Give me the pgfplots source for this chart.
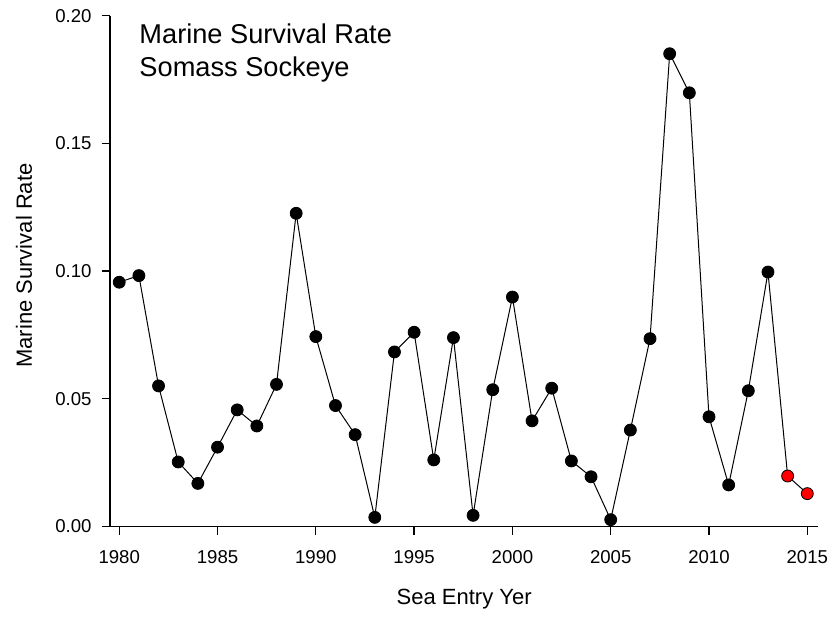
\documentclass[border=0pt]{standalone}
\usepackage{fontspec}
\setmainfont{Liberation Sans}
\usepackage{pgfplots}
\pgfplotsset{compat=1.18}
\usepackage{pgfplotstable}
\pgfplotstableread{
year rate
1980 0.0956
1981 0.0982
1982 0.0550
1983 0.0252
1984 0.0168
1985 0.0310
1986 0.0456
1987 0.0393
1988 0.0556
1989 0.1226
1990 0.0743
1991 0.0473
1992 0.0359
1993 0.0035
1994 0.0683
1995 0.0760
1996 0.0260
1997 0.0739
1998 0.0043
1999 0.0535
2000 0.0898
2001 0.0413
2002 0.0541
2003 0.0256
2004 0.0194
2005 0.0026
2006 0.0377
2007 0.0735
2008 0.1851
2009 0.1698
2010 0.0429
2011 0.0162
2012 0.0531
2013 0.0996
2014 0.0197
2015 0.0128
}\datatable
\pgfplotstableread{
year rate
1980 0.0956
1981 0.0982
1982 0.0550
1983 0.0252
1984 0.0168
1985 0.0310
1986 0.0456
1987 0.0393
1988 0.0556
1989 0.1226
1990 0.0743
1991 0.0473
1992 0.0359
1993 0.0035
1994 0.0683
1995 0.0760
1996 0.0260
1997 0.0739
1998 0.0043
1999 0.0535
2000 0.0898
2001 0.0413
2002 0.0541
2003 0.0256
2004 0.0194
2005 0.0026
2006 0.0377
2007 0.0735
2008 0.1851
2009 0.1698
2010 0.0429
2011 0.0162
2012 0.0531
2013 0.0996
}\blacktable
\pgfplotstableread{
year rate
2014 0.0197
2015 0.0128
}\redtable
\begin{document}
\begin{tikzpicture}
\useasboundingbox (0,0) rectangle (417.5pt,308.5pt);
\begin{axis}[
  at={(55pt,45.35pt)}, anchor=south west,
  scale only axis,
  width=354.15pt, height=255.3pt,
  xmin=1979.53, xmax=2015.56,
  ymin=0, ymax=0.2,
  axis x line=bottom, axis y line=left,
  axis line style={-, line width=0.65pt},
  xtick={1980,1985,...,2015},
  ytick={0,0.05,0.1,0.15,0.2},
  tick align=outside,
  major tick length=4.2pt,
  tick style={line width=0.65pt, black},
  xticklabel style={/pgf/number format/1000 sep={}, yshift=-4.5pt},
  yticklabel style={/pgf/number format/fixed, /pgf/number format/precision=2, /pgf/number format/fixed zerofill, xshift=-1.5pt},
  /pgf/number format/assume math mode=true,
  tick label style={font=\fontsize{9.3}{11}\selectfont},
  scaled y ticks=false,
  xlabel={Sea Entry Yer},
  ylabel={Marine Survival Rate},
  label style={font=\fontsize{11}{13}\selectfont},
  xlabel style={at={(axis description cs:0.5,-0.1424)}, anchor=center},
  ylabel style={at={(axis description cs:-0.1214,0.5108)}, anchor=center},
  clip=false,
]
\addplot[black, line width=0.5pt, no marks] table[x=year, y=rate] {\datatable};
\addplot[only marks, mark=*, mark size=3pt, mark options={fill=black, draw=black}] table[x=year, y=rate] {\blacktable};
\addplot[only marks, mark=*, mark size=3pt, mark options={fill=red, draw=black, line width=0.4pt}] table[x=year, y=rate] {\redtable};
\node[anchor=base west, font=\fontsize{13.6}{16}\selectfont, inner sep=0pt] at (axis cs:1981.01,0.189) {Marine Survival Rate};
\node[anchor=base west, font=\fontsize{13.6}{16}\selectfont, inner sep=0pt] at (axis cs:1981.01,0.1762) {Somass Sockeye};
\end{axis}
\end{tikzpicture}
\end{document}
